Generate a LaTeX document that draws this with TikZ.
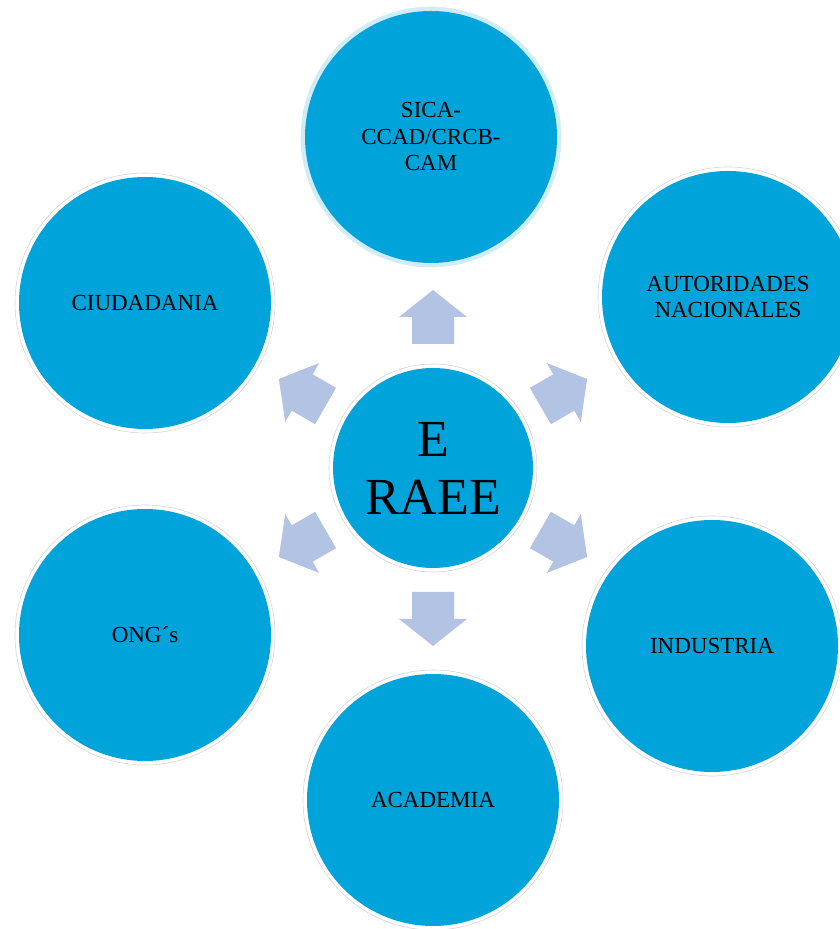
\documentclass[tikz,border=0pt]{standalone}
\usepackage{fontspec}
\setmainfont{Liberation Serif}
\definecolor{cblue}{RGB}{0,163,218}
\definecolor{carrow}{RGB}{179,195,227}
\definecolor{cring}{RGB}{215,215,215}
\definecolor{ccyanring}{RGB}{208,237,246}
\begin{document}
\begin{tikzpicture}[x=1pt,y=1pt,
  ringc/.style={circle,fill=white,draw=cring,line width=0.6pt,minimum size=260pt,inner sep=0pt},
  bub/.style={circle,fill=cblue,minimum size=252pt,inner sep=0pt,align=center,
    font=\fontsize{23}{26.5}\selectfont,text=black},
  blockarrow/.style={fill=carrow,draw=none}]
\useasboundingbox (0,0) rectangle (840,929);
% outer rings
\node[ringc,draw=ccyanring,fill=ccyanring] (rtop) at (431,792) {};
\node[ringc] (rur) at (728,632) {};
\node[ringc] (rlr) at (712,283) {};
\node[ringc] (rbot) at (433,129) {};
\node[ringc] (rll) at (145,294) {};
\node[ringc] (rul) at (145,626) {};
\node[ringc,minimum size=208pt] (rc) at (433,461) {};
% circles
\node[bub] (top) at (431,792) {SICA-\\CCAD/CRCB-\\CAM};
\node[bub] (ur) at (728,632) {AUTORIDADES\\NACIONALES};
\node[bub] (lr) at (712,283) {INDUSTRIA};
\node[bub] (bot) at (433,129) {ACADEMIA};
\node[bub] (ll) at (145,294) {ONG´s};
\node[bub] (ul) at (145,626) {CIUDADANIA};
\node[bub,minimum size=200pt,font=\fontsize{52}{58}\selectfont] (c) at (433,461) {E\\RAEE};
% block arrows
\foreach \ang in {90,30,-30,-90,-150,150}{
  \begin{scope}[shift={(433,461)},rotate=\ang]
    \fill[blockarrow] (124,-21) -- (151,-21) -- (151,-34) -- (178,0) -- (151,34) -- (151,21) -- (124,21) -- cycle;
  \end{scope}
}
\end{tikzpicture}
\end{document}
